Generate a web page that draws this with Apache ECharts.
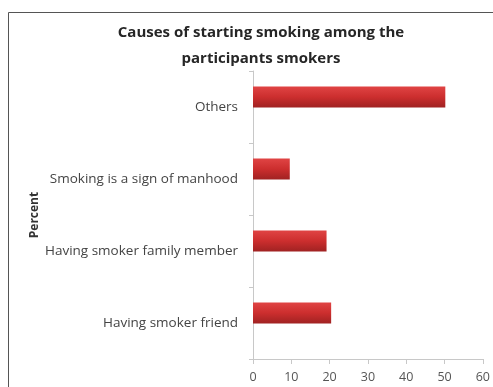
<!DOCTYPE html>
<html><head><meta charset="utf-8">
<script src="https://cdn.jsdelivr.net/npm/echarts@6/dist/echarts.min.js"></script>
<style>html,body{margin:0;padding:0;background:#fff}#c{width:493px;height:387px}</style>
</head><body><div id="c"></div>
<script>
const categories = ["Having smoker friend", "Having smoker family member", "Smoking is a sign of manhood", "Others"];
const percentValues = [20.4, 19.2, 9.6, 50.2];
const emptyValues = [null, null, null, null];
const xTicks = [0, 10, 20, 30, 40, 50, 60];
const chart = echarts.init(document.getElementById('c'), null, {renderer: 'canvas'});
chart.setOption({
  animation: false,
  backgroundColor: '#fff',
  title: {
    text: 'Causes of starting smoking among the\nparticipants smokers',
    left: 256, top: 15, textAlign: 'center',
    textStyle: {fontFamily: 'Open Sans', fontWeight: 'bold', fontSize: 15, color: '#262626', lineHeight: 26}
  },
  graphic: [{type: 'rect', shape: {x: 8.5, y: 12.5, width: 500, height: 400}, style: {fill: 'none', stroke: '#555', lineWidth: 1}, silent: true}],
  grid: {left: 253, right: 7, top: 71, bottom: 28},
  xAxis: {
    type: 'value', min: xTicks[0], max: xTicks[xTicks.length - 1], interval: 10,
    axisLine: {show: true, lineStyle: {color: '#c8c8c8'}},
    axisTick: {show: true, lineStyle: {color: '#c8c8c8'}},
    splitLine: {show: false},
    axisLabel: {fontFamily: 'Open Sans', fontSize: 12.5, color: '#555', margin: 12}
  },
  yAxis: {
    type: 'category', data: categories,
    name: 'Percent', nameLocation: 'middle', nameGap: 212, nameRotate: 90,
    nameTextStyle: {fontFamily: 'Open Sans', fontWeight: 'bold', fontSize: 12, color: '#333'},
    axisLine: {show: true, lineStyle: {color: '#c8c8c8'}},
    axisTick: {show: true, length: 4, lineStyle: {color: '#c8c8c8'}},
    axisLabel: {fontFamily: 'Open Sans', fontSize: 13.5, color: '#444', margin: 15}
  },
  series: [{
    type: 'bar', data: percentValues, barWidth: 21, barGap: '-5%',
    itemStyle: {
      color: new echarts.graphic.LinearGradient(0, 0, 0, 1, [
        {offset: 0, color: '#e04444'}, {offset: 0.5, color: '#cc2e2e'}, {offset: 1, color: '#a02222'}
      ])
    }
  }, {
    type: 'bar', data: emptyValues, barWidth: 21
  }]
});
</script></body></html>
